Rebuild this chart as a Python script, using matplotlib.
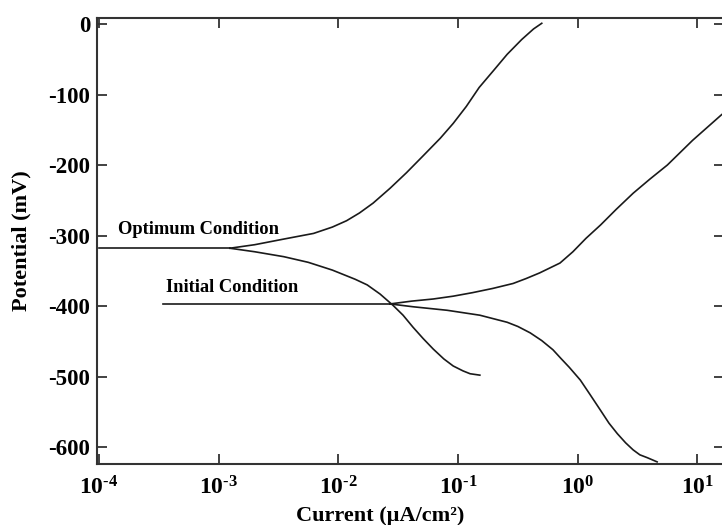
import matplotlib
matplotlib.use("Agg")
import matplotlib.pyplot as plt

plt.rcParams['font.family'] = 'Liberation Serif'
plt.rcParams['font.weight'] = 'bold'
plt.rcParams['mathtext.fontset'] = 'custom'
plt.rcParams['mathtext.rm'] = 'Liberation Serif:bold'
plt.rcParams['mathtext.it'] = 'Liberation Serif:bold'
plt.rcParams['mathtext.bf'] = 'Liberation Serif:bold'

# current in uA/cm2, potential in mV
opt_flat_i = [1.0e-4, 1.24e-3]
opt_flat_e = [-318, -318]

opt_anodic_i = [1.24e-3, 2.0e-3, 3.5e-3, 6.2e-3, 8.9e-3, 1.17e-2, 1.5e-2,
                1.95e-2, 2.7e-2, 3.7e-2, 5.1e-2, 7.1e-2, 9.1e-2, 0.117,
                0.15, 0.20, 0.257, 0.34, 0.427, 0.50]
opt_anodic_e = [-318, -313, -305, -297, -288, -279, -268,
                -254, -233, -211, -187, -162, -141, -117,
                -90, -65, -43, -22, -7, 1]

opt_cathodic_i = [1.24e-3, 2.0e-3, 3.5e-3, 5.6e-3, 8.9e-3, 1.38e-2, 1.74e-2,
                  2.23e-2, 2.86e-2, 3.47e-2, 4.2e-2, 5.1e-2, 6.2e-2, 7.6e-2,
                  9.1e-2, 0.11, 0.126, 0.152]
opt_cathodic_e = [-318, -323, -330, -338, -349, -362, -370,
                  -383, -399, -413, -430, -446, -461, -475,
                  -485, -492, -496, -498]

ini_flat_i = [3.43e-4, 2.7e-2]
ini_flat_e = [-397, -397]

ini_anodic_i = [2.7e-2, 4.1e-2, 6.2e-2, 9.1e-2, 0.132, 0.195, 0.288, 0.37,
                0.48, 0.71, 0.91, 1.17, 1.55, 2.09, 2.9, 4.0, 5.6, 9.1,
                15.8, 17.8]
ini_anodic_e = [-397, -393, -390, -386, -381, -375, -368, -361,
                -353, -339, -323, -304, -285, -263, -240, -220, -200, -165,
                -129, -122]

ini_cathodic_i = [2.7e-2, 4.2e-2, 8.1e-2, 0.152, 0.257, 0.316, 0.40, 0.50,
                  0.62, 0.72, 0.85, 1.05, 1.26, 1.55, 1.82, 2.14, 2.51,
                  2.9, 3.3, 3.8, 4.6]
ini_cathodic_e = [-397, -401, -406, -413, -423, -429, -438, -449,
                  -462, -474, -487, -505, -525, -548, -566, -581, -594,
                  -604, -611, -615, -621]

xtick_exps = [-4, -3, -2, -1, 0, 1]
ytick_vals = [0, -100, -200, -300, -400, -500, -600]

fig = plt.figure(figsize=(7.22, 5.25), dpi=100)
ax = fig.add_axes([0.1343, 0.1162, 0.8684, 0.8495])

line_kw = dict(color='#1a1a1a', linewidth=1.2)
for xs, ys in [(opt_flat_i, opt_flat_e), (opt_anodic_i, opt_anodic_e),
               (opt_cathodic_i, opt_cathodic_e), (ini_flat_i, ini_flat_e),
               (ini_anodic_i, ini_anodic_e), (ini_cathodic_i, ini_cathodic_e)]:
    ax.plot(xs, ys, **line_kw)

ax.set_xscale('log')
ax.set_xlim(10 ** -4.017, 10 ** 1.221)
ax.set_ylim(-624, 8.5)

ax.set_xticks([10.0 ** e for e in xtick_exps])
ax.set_xticklabels([f'$10^{{{str(e).replace("-", "‐")}}}$' for e in xtick_exps])
ax.minorticks_off()
ax.set_yticks(ytick_vals)
ax.set_yticklabels([str(v) if v == 0 else f'-{abs(v)}' for v in ytick_vals])

ax.tick_params(axis='both', which='major', direction='in', length=7, width=1.3,
               top=True, right=True, color='#333333')
ax.tick_params(axis='y', labelsize=16.5, pad=5)
ax.tick_params(axis='x', labelsize=17, pad=9)
for s in ax.spines.values():
    s.set_linewidth(1.5)
    s.set_color('#333333')

ax.set_xlabel('Current (µA/cm²)', fontsize=16, fontweight='bold')
ax.xaxis.label.set_va('center')
ax.xaxis.set_label_coords(0.451, -0.116)
ax.set_ylabel('Potential (mV)', fontsize=16, fontweight='bold')
ax.yaxis.label.set_va('center')
ax.yaxis.set_label_coords(-0.121, 0.5)

ax.text(1.45e-4, -291, 'Optimum Condition', fontsize=13.3, fontweight='bold',
        va='center', ha='left')
ax.text(3.6e-4, -373, 'Initial Condition', fontsize=13.3, fontweight='bold',
        va='center', ha='left')

fig.savefig('out.png', dpi=100)
